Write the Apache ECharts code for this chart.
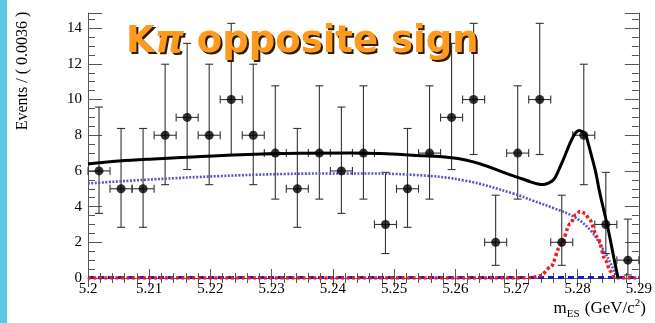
<!DOCTYPE html>
<html>
<head>
<meta charset="utf-8">
<script src="https://cdn.jsdelivr.net/npm/echarts@6/dist/echarts.min.js"></script>
<style>
  html, body { margin: 0; padding: 0; background: #ffffff; }
  #chart { width: 655px; height: 323px; }
</style>
</head>
<body>
<div id="chart"></div>
<script>
// ---- data ----
const binCenters = [5.2018, 5.2054, 5.2090, 5.2126, 5.2162, 5.2198, 5.2234, 5.2270, 5.2306, 5.2342,
                    5.2378, 5.2414, 5.2450, 5.2486, 5.2522, 5.2558, 5.2594, 5.2630, 5.2666, 5.2702,
                    5.2738, 5.2774, 5.2810, 5.2846, 5.2882];
const counts = [6, 5, 5, 8, 9, 8, 10, 8, 7, 5, 7, 6, 7, 3, 5, 7, 9, 10, 2, 7, 10, 2, 8, 3, 1];
const errLow = [3.62, 2.84, 2.84, 5.23, 6.08, 5.23, 6.92, 5.23, 4.42, 2.84, 4.42, 3.62, 4.42, 1.37, 2.84,
                4.42, 6.08, 6.92, 0.71, 4.42, 6.92, 0.71, 5.23, 1.37, 0.17];
const errHigh = [9.58, 8.38, 8.38, 11.98, 13.15, 11.98, 14.27, 11.98, 10.77, 8.38, 10.77, 9.58, 10.77, 5.92, 8.38,
                 10.77, 13.15, 14.27, 4.64, 10.77, 14.27, 4.64, 11.98, 5.92, 3.30];
const halfBin = 0.0018;

// total fit (black solid)
const totalX = [5.2000, 5.2050, 5.2100, 5.2160, 5.2220, 5.2322, 5.2429, 5.2536, 5.2617, 5.2696, 5.2710,
                5.2723, 5.2735, 5.2745, 5.2753, 5.2761, 5.2769, 5.2777, 5.2785, 5.2791, 5.2797, 5.2802,
                5.2808, 5.2813, 5.2818, 5.2824, 5.2830, 5.2835, 5.2842, 5.2849, 5.2853, 5.2859, 5.2866];
const totalY = [6.39, 6.55, 6.66, 6.76, 6.87, 6.98, 7.00, 6.87, 6.61, 5.71, 5.55,
                5.39, 5.27, 5.24, 5.33, 5.52, 6.05, 6.67, 7.35, 7.80, 8.15, 8.27,
                8.20, 8.00, 7.45, 6.67, 5.85, 4.95, 3.90, 2.86, 2.20, 1.15, 0.00];

// combinatoric background (blue dotted)
const bgX = [5.2000, 5.2107, 5.2214, 5.2322, 5.2429, 5.2536, 5.2617, 5.2696, 5.2728, 5.2761, 5.2794,
             5.2821, 5.2843, 5.2857, 5.2864];
const bgY = [5.30, 5.53, 5.71, 5.83, 5.86, 5.77, 5.45, 4.72, 4.32, 3.91, 3.43,
             2.67, 1.53, 0.59, 0.00];

// signal (red dotted)
const sigX = [5.2000, 5.2700, 5.2725, 5.2739, 5.2756, 5.2772, 5.2788, 5.2797, 5.2804, 5.2812, 5.2819,
              5.2832, 5.2846, 5.2853, 5.2859, 5.2865, 5.2900];
const sigY = [0.00, 0.00, 0.02, 0.12, 0.62, 1.82, 3.05, 3.55, 3.74, 3.62, 3.30,
              2.30, 0.96, 0.40, 0.05, 0.00, 0.00];

// flat near-zero component (blue dashed)
const flatX = [5.2000, 5.2900];
const flatY = [0.03, 0.03];

const xTickLabels = ['5.2', '5.21', '5.22', '5.23', '5.24', '5.25', '5.26', '5.27', '5.28', '5.29'];
const yTickLabels = ['0', '2', '4', '6', '8', '10', '12', '14'];

// ---- chart ----
const zip = (xs, ys) => xs.map((x, i) => [x, ys[i]]);
const pointData = binCenters.map((x, i) => [x, counts[i], errLow[i], errHigh[i]]);

const serif = '"Liberation Serif", "DejaVu Serif", "Times New Roman", serif';
const axisCol = '#555555';

const chart = echarts.init(document.getElementById('chart'), null, { renderer: 'canvas' });

const xCommon = {
  type: 'value', min: 5.2, max: 5.29, interval: 0.01,
  axisLine: { show: true, lineStyle: { color: axisCol, width: 1 } },
  axisTick: { show: true, inside: true, length: 9, lineStyle: { color: axisCol, width: 1 } },
  minorTick: { show: true, splitNumber: 5, length: 5, lineStyle: { color: axisCol, width: 1 } },
  splitLine: { show: false }
};
const yCommon = {
  type: 'value', min: 0, max: 14.85, interval: 2,
  axisLine: { show: true, lineStyle: { color: axisCol, width: 1 } },
  axisTick: { show: true, inside: true, length: 14, lineStyle: { color: axisCol, width: 1 } },
  minorTick: { show: true, splitNumber: 4, length: 7, lineStyle: { color: axisCol, width: 1 } },
  splitLine: { show: false }
};

const titleFont = '"DejaVu Sans", sans-serif';
const titleRich = (fill) => ({
  k: { fontFamily: titleFont, fontWeight: 'bold', fontSize: 37, fill: fill },
  p: { fontFamily: titleFont, fontWeight: 'bold', fontStyle: 'italic', fontSize: 37, fill: fill }
});
const titleText = '{k|K}{p|π}{k| opposite sign}';

chart.setOption({
  animation: false,
  backgroundColor: '#ffffff',
  grid: { left: 88, right: 8, top: 13, bottom: 45, containLabel: false },
  xAxis: [
    Object.assign({}, xCommon, {
      position: 'bottom',
      axisLabel: {
        show: true, margin: 4, color: '#000', fontFamily: serif, fontSize: 15,
        showMaxLabel: true,
        formatter: v => {
          const idx = Math.round((v - 5.2) / 0.01);
          return xTickLabels[idx] !== undefined ? xTickLabels[idx] : '';
        }
      }
    }),
    Object.assign({}, xCommon, { position: 'top', axisLabel: { show: false } })
  ],
  yAxis: [
    Object.assign({}, yCommon, {
      position: 'left',
      axisLabel: {
        show: true, margin: 6, color: '#000', fontFamily: serif, fontSize: 15,
        showMaxLabel: false,
        formatter: v => {
          const idx = Math.round(v / 2);
          return (Math.abs(v - idx * 2) < 1e-6 && yTickLabels[idx] !== undefined) ? yTickLabels[idx] : '';
        }
      }
    }),
    Object.assign({}, yCommon, { position: 'right', axisLabel: { show: false } })
  ],
  series: [
    {
      type: 'custom',
      name: 'errors',
      xAxisIndex: 0, yAxisIndex: 0,
      data: pointData,
      z: 3,
      renderItem: (params, api) => {
        const x = api.value(0), y = api.value(1), lo = api.value(2), hi = api.value(3);
        const pHi = api.coord([x, hi]);
        const pLo = api.coord([x, lo]);
        const pL = api.coord([x - halfBin, y]);
        const pR = api.coord([x + halfBin, y]);
        const c = 4;
        const st = { stroke: '#333333', lineWidth: 1.1 };
        const ln = (x1, y1, x2, y2) => ({ type: 'line', shape: { x1, y1, x2, y2 }, style: st });
        return {
          type: 'group',
          children: [
            ln(pHi[0], pHi[1], pLo[0], pLo[1]),
            ln(pHi[0] - c, pHi[1], pHi[0] + c, pHi[1]),
            ln(pLo[0] - c, pLo[1], pLo[0] + c, pLo[1]),
            ln(pL[0], pL[1], pR[0], pR[1]),
            ln(pL[0], pL[1] - c, pL[0], pL[1] + c),
            ln(pR[0], pR[1] - c, pR[0], pR[1] + c)
          ]
        };
      }
    },
    {
      type: 'line', name: 'flat', data: zip(flatX, flatY), showSymbol: false, symbol: 'none',
      lineStyle: { color: '#1a1ad0', width: 3, type: [6, 4] }, z: 4, silent: true
    },
    {
      type: 'line', name: 'bg', data: zip(bgX, bgY), showSymbol: false, symbol: 'none',
      smooth: 0.4,
      lineStyle: { color: '#5858b8', width: 2.6, type: [2, 1.5] }, z: 5, silent: true
    },
    {
      type: 'line', name: 'sig', data: zip(sigX, sigY), showSymbol: false, symbol: 'none',
      smooth: 0.3, smoothMonotone: 'x',
      lineStyle: { color: '#ee1c1c', width: 3.5, type: [3, 2.5] }, z: 6, silent: true
    },
    {
      type: 'line', name: 'total', data: zip(totalX, totalY), showSymbol: false, symbol: 'none',
      smooth: 0.4,
      lineStyle: { color: '#000000', width: 3 }, z: 7, silent: true
    },
    {
      type: 'scatter', name: 'data', data: pointData.map(d => [d[0], d[1]]),
      symbol: 'circle', symbolSize: 9, itemStyle: { color: '#000000' }, z: 8, silent: true
    }
  ],
  graphic: [
    { type: 'rect', left: 0, top: 0, shape: { width: 7, height: 323 }, style: { fill: '#5bc8e6' }, z: 10 },
    {
      type: 'text', x: 23, y: 71, rotation: Math.PI / 2, z: 10,
      style: {
        text: 'Events / ( 0.0036 )', fontFamily: serif, fontSize: 16, fill: '#000',
        align: 'center', verticalAlign: 'middle'
      }
    },
    {
      type: 'text', x: 646, y: 309, z: 10,
      style: {
        text: '{n|m}{s|ES}{n| (GeV/c}{p|2}{n|)}',
        align: 'right', verticalAlign: 'middle',
        rich: {
          n: { fontFamily: serif, fontSize: 17, fill: '#000', lineHeight: 22, verticalAlign: 'middle' },
          s: { fontFamily: serif, fontSize: 11, fill: '#000', lineHeight: 22, verticalAlign: 'bottom', padding: [0, 1, 0, 0] },
          p: { fontFamily: serif, fontSize: 11, fill: '#000', lineHeight: 22, verticalAlign: 'top' }
        }
      }
    },
    {
      type: 'text', x: 128, y: 44, z: 10,
      style: { text: titleText, align: 'left', verticalAlign: 'middle', rich: titleRich('#2e1e00') }
    },
    {
      type: 'text', x: 126, y: 42, z: 11,
      style: { text: titleText, align: 'left', verticalAlign: 'middle', rich: titleRich('#ff9a1e') }
    }
  ]
});
</script>
</body>
</html>
